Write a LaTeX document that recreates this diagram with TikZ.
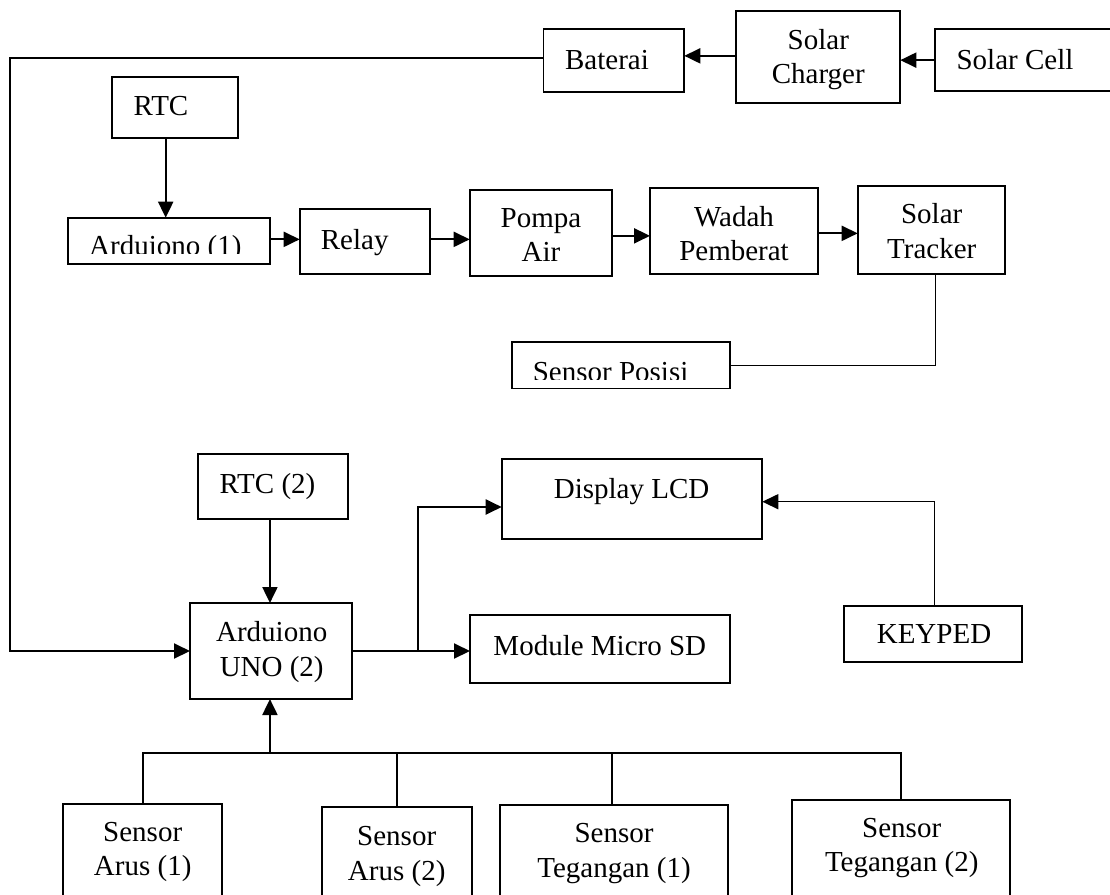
\documentclass[tikz,border=0pt]{standalone}
\usepackage{fontspec}
\setmainfont{Liberation Serif}
\usetikzlibrary{arrows.meta,fit}
\newcommand\twoln[2]{\begin{tabular}[t]{@{}c@{}}#1\\#2\end{tabular}}
\begin{document}
\begin{tikzpicture}[x=1pt,y=-1pt,
  box/.style={draw, line width=1.7pt, rectangle, inner sep=0pt, outer sep=0pt},
  txt/.style={font=\fontsize{29}{34.5}\selectfont, inner sep=0pt, anchor=base},
  conn/.style={line width=2pt},
  arr/.style={conn, -{Triangle[length=16pt,width=15pt]}},
  thinline/.style={line width=1.4pt}]
\clip (0,0) rectangle (1110,894);
\fill[white] (0,0) rectangle (1110,894);

% boxes
\node[box, fit={(543.6,29.3) (684.3,91.7)}] (bat) {};
\node[box, fit={(735.7,11) (900.3,102.7)}] (chg) {};
\node[box, fit={(935,29.3) (1130,91)}] (cell) {};
\node[box, fit={(111.7,77) (238.3,137.7)}] (rtc1) {};
\node[box, fit={(67.7,217.7) (270,264)}] (ard1) {};
\node[box, fit={(299.7,209.3) (430.3,274)}] (relay) {};
\node[box, fit={(469.7,189.7) (612.3,276)}] (pompa) {};
\node[box, fit={(650,187.7) (818.3,274)}] (wadah) {};
\node[box, fit={(857.7,185.7) (1004.7,274)}] (track) {};
\node[box, fit={(511.7,342.3) (730.3,388.5)}] (posisi) {};
\node[box, fit={(501.7,459) (762.3,539)}] (lcd) {};
\node[box, fit={(197.7,454) (348.3,518.7)}] (rtc2) {};
\node[box, fit={(190,603) (352.3,699)}] (ard2) {};
\node[box, fit={(470,615) (730.3,683.3)}] (sd) {};
\node[box, fit={(843.7,606) (1022.3,662.3)}] (key) {};
\node[box, fit={(63.3,803.7) (221.7,920)}] (sa1) {};
\node[box, fit={(321.7,807) (472,920)}] (sa2) {};
\node[box, fit={(500,805) (728,920)}] (st1) {};
\node[box, fit={(792,799.7) (1010.3,920)}] (st2) {};

% texts
\node[txt] (t-bat) at (607,69) {Baterai};
\node[txt] (t-chg) at (818.3,49) {\twoln{Solar}{Charger}};
\node[txt] (t-cell) at (1015,69) {Solar Cell};
\node[txt] (t-rtc1) at (161,115) {RTC};
\begin{scope}
  \clip (69,219) rectangle (268.5,253.3);
  \node[txt] (t-ard1) at (165.3,255) {Arduiono (1)};
\end{scope}
\node[txt] (t-relay) at (354.7,249) {Relay};
\node[txt] (t-pompa) at (541,227) {\twoln{Pompa}{Air}};
\node[txt] (t-wadah) at (734,226) {\twoln{Wadah}{Pemberat}};
\node[txt] (t-track) at (931.7,223.5) {\twoln{Solar}{Tracker}};
\begin{scope}
  \clip (513,343.5) rectangle (729,379);
  \node[txt] (t-posisi) at (610.6,381.5) {Sensor Posisi};
\end{scope}
\node[txt] (t-lcd) at (631.6,498) {Display LCD};
\node[txt] (t-rtc2) at (267.5,493) {RTC (2)};
\node[txt] (t-ard2) at (271.7,641.5) {\twoln{Arduiono}{UNO (2)}};
\node[txt] (t-sd) at (599.8,655.5) {Module Micro SD};
\node[txt] (t-key) at (934,643.5) {KEYPED};
\node[txt] (t-sa1) at (142.7,841) {\twoln{Sensor}{Arus (1)}};
\node[txt] (t-sa2) at (396.7,845.5) {\twoln{Sensor}{Arus (2)}};
\node[txt] (t-st1) at (614,842.5) {\twoln{Sensor}{Tegangan (1)}};
\node[txt] (t-st2) at (901.7,837) {\twoln{Sensor}{Tegangan (2)}};

% connectors
\coordinate (lc) at (10,0);
\coordinate (j1) at (418.3,651);
\coordinate (bus) at (0,753.3);

\draw[arr] ([yshift=1pt]chg.west) -- ([yshift=1pt]chg.west -| bat.east);
\draw[arr] (cell.west) -- (cell.west -| chg.east);
\draw[arr] ([yshift=2.5pt]bat.west) -| (lc |- ard2.west) -- (ard2.west);
\draw[arr] ([xshift=-9.3pt]rtc1.south) -- ([xshift=-9.3pt]rtc1.south |- ard1.north);
\draw[arr] ([yshift=1.5pt]ard1.east) -- ([yshift=1.5pt]ard1.east -| relay.west);
\draw[arr] ([yshift=2.3pt]relay.east) -- ([yshift=2.3pt]relay.east -| pompa.west);
\draw[arr] ([yshift=-3pt]pompa.east) -- ([yshift=-3pt]pompa.east -| wadah.west);
\draw[arr] ([yshift=-2.5pt]wadah.east) -- ([yshift=-2.5pt]wadah.east -| track.west);
\draw[thinline] ([xshift=4.5pt]track.south) |- (posisi.east);
\draw[arr] ([xshift=-1.2pt]rtc2.south -| ard2.north) -- ([xshift=-1.2pt]ard2.north);
\draw[arr] (ard2.east) -- (ard2.east -| sd.west);
\draw[arr] (j1) |- ([yshift=-8pt]lcd.west);
\draw[arr, line width=1.5pt] ([xshift=1.5pt]key.north) |- ([yshift=-2.7pt]lcd.east);
\draw[conn] (sa1.north) -- (sa1.north |- bus) -- (st2.north |- bus) -- (st2.north);
\draw[conn] (sa2.north |- bus) -- (sa2.north);
\draw[conn] ([xshift=-2pt]st1.north |- bus) -- ([xshift=-2pt]st1.north);
\draw[arr] ([xshift=-1.2pt]ard2.south |- bus) -- ([xshift=-1.2pt]ard2.south);
\end{tikzpicture}
\end{document}
